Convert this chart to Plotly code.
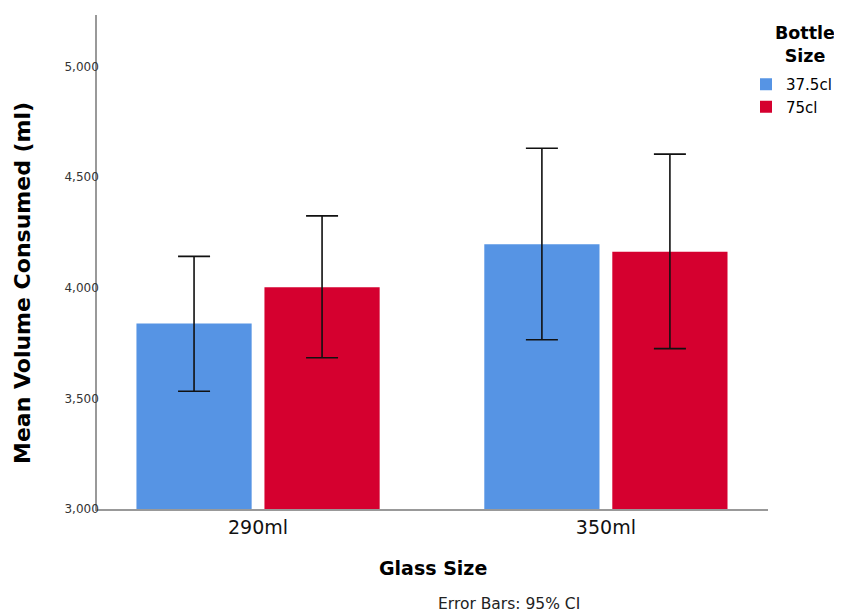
import plotly.graph_objects as go

glass_sizes = ["290ml", "350ml"]
bottle_sizes = ["37.5cl", "75cl"]
means_375 = [3838, 4197]
upper_375 = [4142, 4631]
lower_375 = [3532, 3765]
means_75 = [4002, 4163]
upper_75 = [4325, 4604]
lower_75 = [3684, 3725]
colors = ["#5694E4", "#D5002F"]

fig = go.Figure()
for name, m, up, lo, c in [
    (bottle_sizes[0], means_375, upper_375, lower_375, colors[0]),
    (bottle_sizes[1], means_75, upper_75, lower_75, colors[1]),
]:
    fig.add_trace(go.Bar(
        x=glass_sizes, y=m, name=name,
        marker=dict(color=c, line=dict(width=0)),
        error_y=dict(type="data", symmetric=False,
                     array=[u - v for u, v in zip(up, m)],
                     arrayminus=[v - l for v, l in zip(m, lo)],
                     color="#111111", thickness=1.6, width=16),
    ))

# page is rendered with an 8px body margin; work in page pixels
OFF = 8
W, H = 842 - OFF, 614 - OFF
PL, PR, PT, PB = 97 - OFF, 768 - OFF, 15 - OFF, 509 - OFF
def px_x(p):
    return (p - OFF - PL) / (PR - PL)
def px_y(p):
    return (PB - (p - OFF)) / (PB - PT)

fig.update_layout(
    width=W, height=H,
    margin=dict(l=PL, r=W - PR, t=PT, b=H - PB, autoexpand=False),
    paper_bgcolor="white", plot_bgcolor="white",
    font=dict(family="DejaVu Sans", color="#000000"),
    barmode="group", bargap=0.264, bargroupgap=0.1,
    showlegend=True,
    legend=dict(
        font=dict(size=15, color="#000"),
        xref="container", yref="container",
        x=(746 - OFF) / W, y=1 - (68 - OFF) / H, xanchor="left", yanchor="top",
        bgcolor="rgba(0,0,0,0)", tracegroupgap=0, itemwidth=30,
    ),
    annotations=[
        dict(text="<b>Bottle<br>Size</b>", xref="paper", yref="paper",
             x=px_x(805), y=px_y(44), xanchor="center", yanchor="middle",
             showarrow=False, font=dict(size=17.5, color="#000")),
        dict(text="Error Bars: 95% CI", xref="paper", yref="paper",
             x=px_x(509), y=px_y(604), xanchor="center", yanchor="middle",
             showarrow=False, font=dict(size=15.5, color="#222")),
        dict(text="<b>Glass Size</b>", xref="paper", yref="paper",
             x=px_x(433), y=px_y(568), xanchor="center", yanchor="middle",
             showarrow=False, font=dict(size=19, color="#000")),
        dict(text="<b>Mean Volume Consumed (ml)</b>", xref="paper", yref="paper",
             x=px_x(22), y=px_y(283), xanchor="center", yanchor="middle",
             textangle=-90, showarrow=False, font=dict(size=22, color="#000")),
    ],
)
fig.update_xaxes(
    range=[-0.463, 1.466],
    showline=True, linecolor="#999999", linewidth=1.5,
    ticks="", showgrid=False,
    tickfont=dict(size=19, color="#111"),
)
fig.update_yaxes(
    range=[3000, 5233],
    tickvals=[3000, 3500, 4000, 4500, 5000], tickformat=",d",
    showline=True, linecolor="#999999", linewidth=1.5,
    ticks="", showgrid=False, zeroline=False,
    ticklabelstandoff=-6,
    tickfont=dict(size=12, color="#333"),
)

fig.write_html("out.html")
